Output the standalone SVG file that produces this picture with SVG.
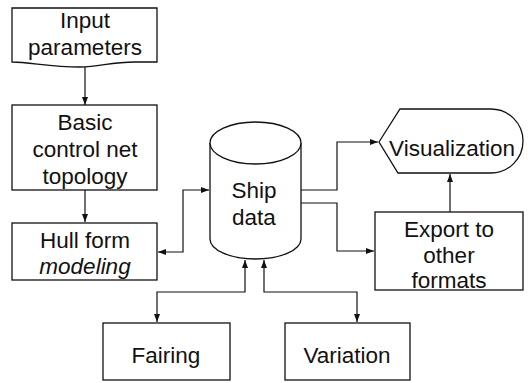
<svg xmlns="http://www.w3.org/2000/svg" width="528" height="383" viewBox="0 0 528 383">
<defs>
<marker id="arr" markerUnits="userSpaceOnUse" markerWidth="8" markerHeight="6" refX="8" refY="3" orient="auto-start-reverse">
<path d="M0,0 L8,3 L0,6 Z" fill="#111"/>
</marker>
<style>
.s{fill:#fff;stroke:#111;stroke-width:1.3}
.c{fill:none;stroke:#111;stroke-width:1.2}
text{font-family:"Liberation Sans",Arial,sans-serif;font-size:22.5px;fill:#111;text-anchor:middle}
.i{font-style:italic}
</style>
</defs>
<rect width="528" height="383" fill="#fff"/>
<g id="connectors">
<path class="c" d="M85,63 V105" marker-end="url(#arr)"/>
<path class="c" d="M85,190 V222" marker-end="url(#arr)"/>
<path class="c" d="M158,252 H183 V190 H209" marker-start="url(#arr)" marker-end="url(#arr)"/>
<path class="c" d="M301,190 H337 V142 H378" marker-end="url(#arr)"/>
<path class="c" d="M301,203 H337 V251 H374" marker-end="url(#arr)"/>
<path class="c" d="M450,212 V174" marker-end="url(#arr)"/>
<path class="c" d="M245,260 V292 H157 V322" marker-start="url(#arr)" marker-end="url(#arr)"/>
<path class="c" d="M264,260 V292 H357 V322" marker-start="url(#arr)" marker-end="url(#arr)"/>
</g>
<g id="input">
<path class="s" d="M12,8 H157 V62 H135 C110,62 100,67 80,67 C50,67 30,62 12,62 Z"/>
<text x="85" y="28">Input</text>
<text x="85" y="55">parameters</text>
</g>
<g id="topology">
<rect class="s" x="12" y="105" width="145" height="85"/>
<text x="85" y="130">Basic</text>
<text x="85" y="157">control net</text>
<text x="85" y="184">topology</text>
</g>
<g id="hull">
<rect class="s" x="12" y="223" width="145" height="57"/>
<text x="85" y="248">Hull form</text>
<text x="85" y="274" class="i">modeling</text>
</g>
<g id="shipdata">
<path class="s" d="M210,143 V239 A45.5,20 0 0 0 301,239 V143"/>
<ellipse class="s" cx="255.5" cy="143" rx="45.5" ry="21"/>
<text x="254" y="198">Ship</text>
<text x="254" y="225">data</text>
</g>
<g id="visualization">
<path class="s" d="M379,142 L400,109 H491 A32,32 0 0 1 491,173 H398 Z"/>
<text x="452" y="156">Visualization</text>
</g>
<g id="export">
<rect class="s" x="375" y="212" width="148" height="78"/>
<text x="449" y="237">Export to</text>
<text x="449" y="263">other</text>
<text x="449" y="288">formats</text>
</g>
<g id="fairing">
<rect class="s" x="103" y="323" width="127" height="57"/>
<text x="166" y="363">Fairing</text>
</g>
<g id="variation">
<rect class="s" x="285" y="323" width="125" height="57"/>
<text x="347" y="363">Variation</text>
</g>
</svg>
